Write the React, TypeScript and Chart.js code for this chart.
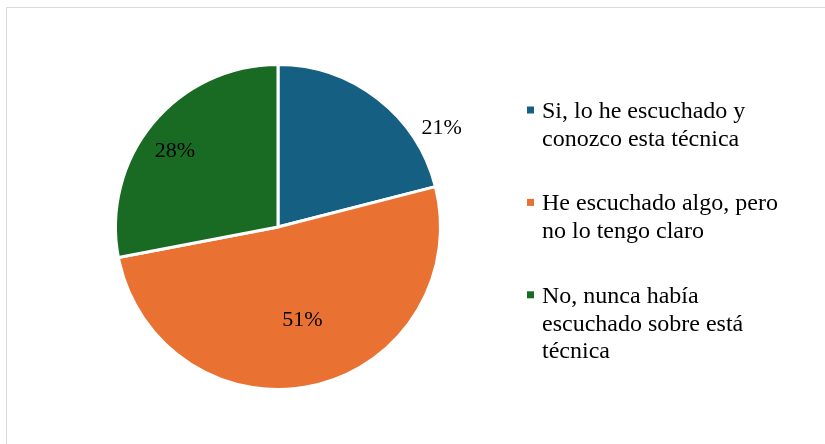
import React, { useEffect, useRef } from "react";
import { Chart, registerables } from "chart.js";

Chart.register(...registerables);

const categories: string[][] = [
  ["Si, lo he escuchado y", "conozco esta técnica"],
  ["He escuchado algo, pero", "no lo tengo claro"],
  ["No, nunca había", "escuchado sobre está", "técnica"],
];
const values: number[] = [21, 51, 28];
const valueLabels: string[] = ["21%", "51%", "28%"];
const colors: string[] = ["#156082", "#E97132", "#196B24"];

// label placement relative to each slice: angle offset (deg) from slice middle, radius factor
const labelAngleOffset: number[] = [20.8, -2.2, -3.0];
const labelRadiusFactor: number[] = [1.18, 0.59, 0.79];

const FONT = '"Liberation Serif", "Times New Roman", serif';

const framePlugin = {
  id: "frame",
  beforeDraw(chart: any) {
    const ctx = chart.ctx;
    ctx.save();
    ctx.fillStyle = "#ffffff";
    ctx.fillRect(0, 0, chart.width, chart.height);
    ctx.strokeStyle = "#d9d9d9";
    ctx.lineWidth = 1;
    ctx.strokeRect(6.5, 7.5, chart.width + 20, chart.height + 20);
    ctx.restore();
  },
};

const labelsPlugin = {
  id: "sliceLabels",
  afterDatasetsDraw(chart: any) {
    const ctx = chart.ctx;
    const meta = chart.getDatasetMeta(0);
    ctx.save();
    ctx.font = `22px ${FONT}`;
    ctx.fillStyle = "#000000";
    ctx.textAlign = "center";
    ctx.textBaseline = "middle";
    meta.data.forEach((arc: any, i: number) => {
      const p = arc.getProps(["x", "y", "startAngle", "endAngle", "outerRadius"], true);
      const mid = (p.startAngle + p.endAngle) / 2 + (labelAngleOffset[i] * Math.PI) / 180;
      const r = p.outerRadius * labelRadiusFactor[i];
      ctx.fillText(valueLabels[i], p.x + Math.cos(mid) * r, p.y + Math.sin(mid) * r + 1);
    });
    ctx.restore();
  },
};

const legendPlugin = {
  id: "sideLegend",
  afterDraw(chart: any) {
    const ctx = chart.ctx;
    const markerX = 527;
    const textX = 542;
    const lineH = 27.7;
    const gap = 37;
    let baseline = 118;
    ctx.save();
    ctx.font = `24px ${FONT}`;
    ctx.textAlign = "left";
    ctx.textBaseline = "alphabetic";
    categories.forEach((lines, i) => {
      ctx.fillStyle = colors[i];
      ctx.fillRect(markerX, baseline - 11.5, 7, 7);
      ctx.fillStyle = "#000000";
      lines.forEach((ln, j) => {
        ctx.fillText(ln, textX, baseline + j * lineH);
      });
      baseline += lines.length * lineH + gap;
    });
    ctx.restore();
  },
};

export default function App() {
  const ref = useRef<HTMLCanvasElement | null>(null);

  useEffect(() => {
    if (!ref.current) return;
    const chart = new Chart(ref.current, {
      type: "pie",
      data: {
        labels: categories,
        datasets: [
          {
            data: values,
            backgroundColor: colors,
            borderColor: "#ffffff",
            borderWidth: 3,
          },
        ],
      },
      options: {
        responsive: false,
        animation: false,
        layout: { padding: { left: 114, top: 63, right: 383, bottom: 53 } },
        plugins: {
          legend: { display: false },
          tooltip: { enabled: false },
        },
      },
      plugins: [framePlugin, labelsPlugin, legendPlugin],
    });
    return () => chart.destroy();
  }, []);

  return (
    <div style={{ position: "absolute", left: 0, top: 0, width: 825, height: 444 }}>
      <canvas ref={ref} width={825} height={444} style={{ width: 825, height: 444, display: "block" }} />
    </div>
  );
}
